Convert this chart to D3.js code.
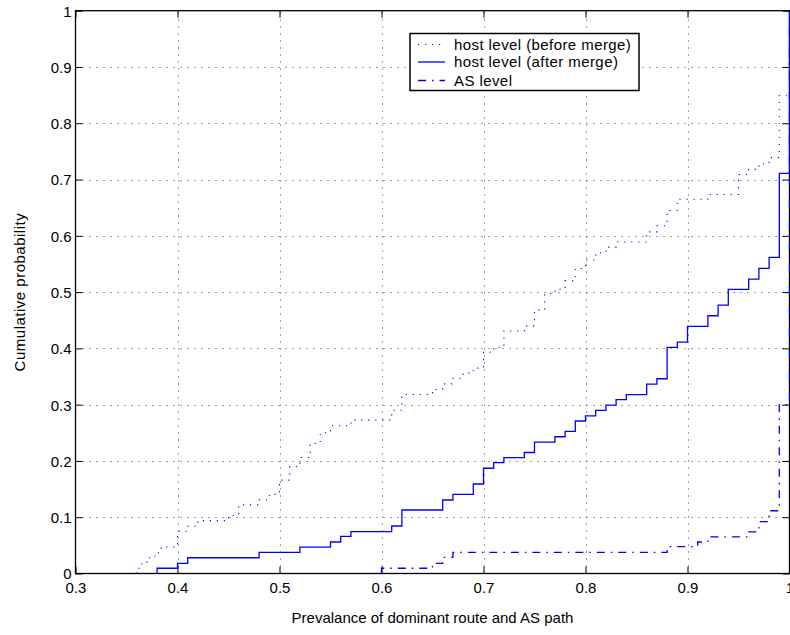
<!DOCTYPE html>
<html>
<head>
<meta charset="utf-8">
<script src="https://cdn.jsdelivr.net/npm/d3@7"></script>
<style>
  html, body { margin: 0; padding: 0; background: #fff; }
  svg { display: block; }
  text { font-family: "Liberation Sans", Arial, Helvetica, sans-serif; fill: #000; }
</style>
</head>
<body>
<svg id="chart" width="790" height="635"></svg>
<script>
// Tick values on both axes
const xTicks = [0.3, 0.4, 0.5, 0.6, 0.7, 0.8, 0.9, 1.0];
const yTicks = [0, 0.1, 0.2, 0.3, 0.4, 0.5, 0.6, 0.7, 0.8, 0.9, 1.0];
const xTickLabels = ["0.3", "0.4", "0.5", "0.6", "0.7", "0.8", "0.9", "1"];
const yTickLabels = ["0", "0.1", "0.2", "0.3", "0.4", "0.5", "0.6", "0.7", "0.8", "0.9", "1"];

// Series names (legend order)
const seriesNames = ["host level (before merge)", "host level (after merge)", "AS level"];

// Empirical CDF steps: prevalence value and cumulative probability reached there
const hostBeforeX = [0.36, 0.36, 0.365, 0.37, 0.378, 0.384, 0.40, 0.41, 0.42, 0.45, 0.46, 0.48, 0.49, 0.50,
  0.51, 0.52, 0.53, 0.54, 0.55, 0.57, 0.61, 0.62, 0.65, 0.66, 0.67, 0.68, 0.69, 0.70, 0.71, 0.72,
  0.74, 0.75, 0.76, 0.77, 0.78, 0.79, 0.80, 0.81, 0.82, 0.83, 0.86, 0.87, 0.88, 0.89, 0.92, 0.95,
  0.96, 0.97, 0.98, 0.99, 1.00];
const hostBeforeY = [0, 0.0093, 0.019, 0.028, 0.037, 0.047, 0.075, 0.084, 0.094, 0.103, 0.122, 0.131, 0.141, 0.166,
  0.19, 0.206, 0.231, 0.25, 0.2625, 0.2726, 0.29, 0.318, 0.327, 0.337, 0.347, 0.356, 0.365, 0.393, 0.402, 0.431,
  0.44, 0.468, 0.497, 0.505, 0.52, 0.542, 0.557, 0.57, 0.58, 0.589, 0.607, 0.618, 0.645, 0.665, 0.6735, 0.709,
  0.718, 0.728, 0.739, 0.849, 1.0];

const hostAfterX = [0.38, 0.38, 0.40, 0.41, 0.48, 0.52, 0.55, 0.56, 0.57, 0.61, 0.62, 0.66, 0.67, 0.69, 0.70,
  0.71, 0.72, 0.74, 0.75, 0.77, 0.78, 0.79, 0.80, 0.81, 0.82, 0.83, 0.84, 0.86, 0.87, 0.88, 0.89, 0.90,
  0.92, 0.93, 0.94, 0.96, 0.97, 0.98, 0.99, 1.00];
const hostAfterY = [0, 0.0093, 0.018, 0.028, 0.0376, 0.047, 0.056, 0.066, 0.0745, 0.0844, 0.1128, 0.1306, 0.1407, 0.159, 0.187,
  0.197, 0.206, 0.215, 0.2336, 0.243, 0.2526, 0.271, 0.28, 0.29, 0.299, 0.309, 0.318, 0.3366, 0.346, 0.4018, 0.411, 0.439,
  0.458, 0.477, 0.505, 0.523, 0.542, 0.5616, 0.711, 1.0];

const asLevelX = [0.60, 0.60, 0.65, 0.66, 0.67, 0.88, 0.91, 0.92, 0.96, 0.97, 0.98, 0.99, 1.00];
const asLevelY = [0, 0.0093, 0.018, 0.0288, 0.0376, 0.0476, 0.056, 0.065, 0.074, 0.092, 0.1115, 0.30, 1.0];

const svg = d3.select("#chart");
const plotLeft = 75.5, plotRight = 789.5, plotTop = 10.7, plotBottom = 573.5;

const x = d3.scaleLinear().domain([0.3, 1.0]).range([plotLeft, plotRight]);
const y = d3.scaleLinear().domain([0, 1]).range([plotBottom, plotTop]);

// Grid
const grid = svg.append("g").attr("stroke", "#000").attr("stroke-width", 1)
  .attr("stroke-dasharray", "1,6").attr("opacity", 0.75);
grid.selectAll("line.gx").data(xTicks.slice(1, -1)).join("line")
  .attr("x1", d => Math.round(x(d)) + 0.5).attr("x2", d => Math.round(x(d)) + 0.5)
  .attr("y1", plotBottom).attr("y2", plotTop);
grid.selectAll("line.gy").data(yTicks.slice(1, -1)).join("line")
  .attr("y1", d => Math.round(y(d)) + 0.5).attr("y2", d => Math.round(y(d)) + 0.5)
  .attr("x1", plotLeft).attr("x2", plotRight);

// Axes (ticks point inward, on all four sides)
const tickLen = 7;
const xAxis = d3.axisBottom(x).tickValues(xTicks).tickSize(-tickLen).tickPadding(9)
  .tickFormat((d, i) => xTickLabels[i]);
const yAxis = d3.axisLeft(y).tickValues(yTicks).tickSize(-tickLen).tickPadding(4)
  .tickFormat((d, i) => yTickLabels[i]);

const gx = svg.append("g").attr("transform", `translate(0,${plotBottom})`).call(xAxis);
const gy = svg.append("g").attr("transform", `translate(${plotLeft},0)`).call(yAxis);
svg.append("g").attr("transform", `translate(0,${plotTop})`)
  .call(d3.axisTop(x).tickValues(xTicks).tickSize(-tickLen).tickFormat(""));
svg.append("g").attr("transform", `translate(${plotRight},0)`)
  .call(d3.axisRight(y).tickValues(yTicks).tickSize(-tickLen).tickFormat(""));

svg.selectAll(".domain").remove();
svg.selectAll(".tick line").attr("stroke", "#000").attr("stroke-width", 1);
svg.selectAll(".tick text").style("font-size", "15px").attr("fill", "#000");
gy.selectAll(".tick text").attr("dy", "0.36em");

svg.append("rect").attr("x", plotLeft).attr("y", plotTop)
  .attr("width", plotRight - plotLeft).attr("height", plotBottom - plotTop)
  .attr("fill", "none").attr("stroke", "#000").attr("stroke-width", 1.3);

// Series lines
const line = d3.line().x(d => x(d[0])).y(d => y(d[1])).curve(d3.curveStepAfter);
const series = [
  { pts: d3.zip(hostBeforeX, hostBeforeY), dash: "1.2,5.8", w: 1.1 },
  { pts: d3.zip(hostAfterX, hostAfterY), dash: null, w: 1.3 },
  { pts: d3.zip(asLevelX, asLevelY), dash: "8,6,1.5,6", w: 1.3 }
];
series.forEach(s => {
  svg.append("path").datum(s.pts).attr("d", line)
    .attr("fill", "none").attr("stroke", "#0000ff").attr("stroke-width", s.w)
    .attr("stroke-dasharray", s.dash);
});

// Axis titles
svg.append("text").attr("x", (plotLeft + plotRight) / 2).attr("y", 622.5)
  .attr("text-anchor", "middle").style("font-size", "15px")
  .text("Prevalance of dominant route and AS path");
svg.append("text").attr("transform", `translate(25,${(plotTop + plotBottom) / 2}) rotate(-90)`)
  .attr("text-anchor", "middle").style("font-size", "15px").style("letter-spacing", "0.5px")
  .text("Cumulative probability");

// Legend
const lg = svg.append("g");
lg.append("rect").attr("x", 410).attr("y", 33.5).attr("width", 229).attr("height", 57)
  .attr("fill", "#fff").attr("stroke", "#000").attr("stroke-width", 1.5);
const rowsY = [44.5, 62, 80.5];
seriesNames.forEach((name, i) => {
  lg.append("line").attr("x1", 418).attr("x2", 445).attr("y1", rowsY[i]).attr("y2", rowsY[i])
    .attr("stroke", "#0000ff").attr("stroke-width", series[i].w)
    .attr("stroke-dasharray", series[i].dash);
  lg.append("text").attr("x", 454).attr("y", rowsY[i]).attr("dy", "0.36em")
    .style("font-size", "15px").style("letter-spacing", "0.42px").text(name);
});
</script>
</body>
</html>
